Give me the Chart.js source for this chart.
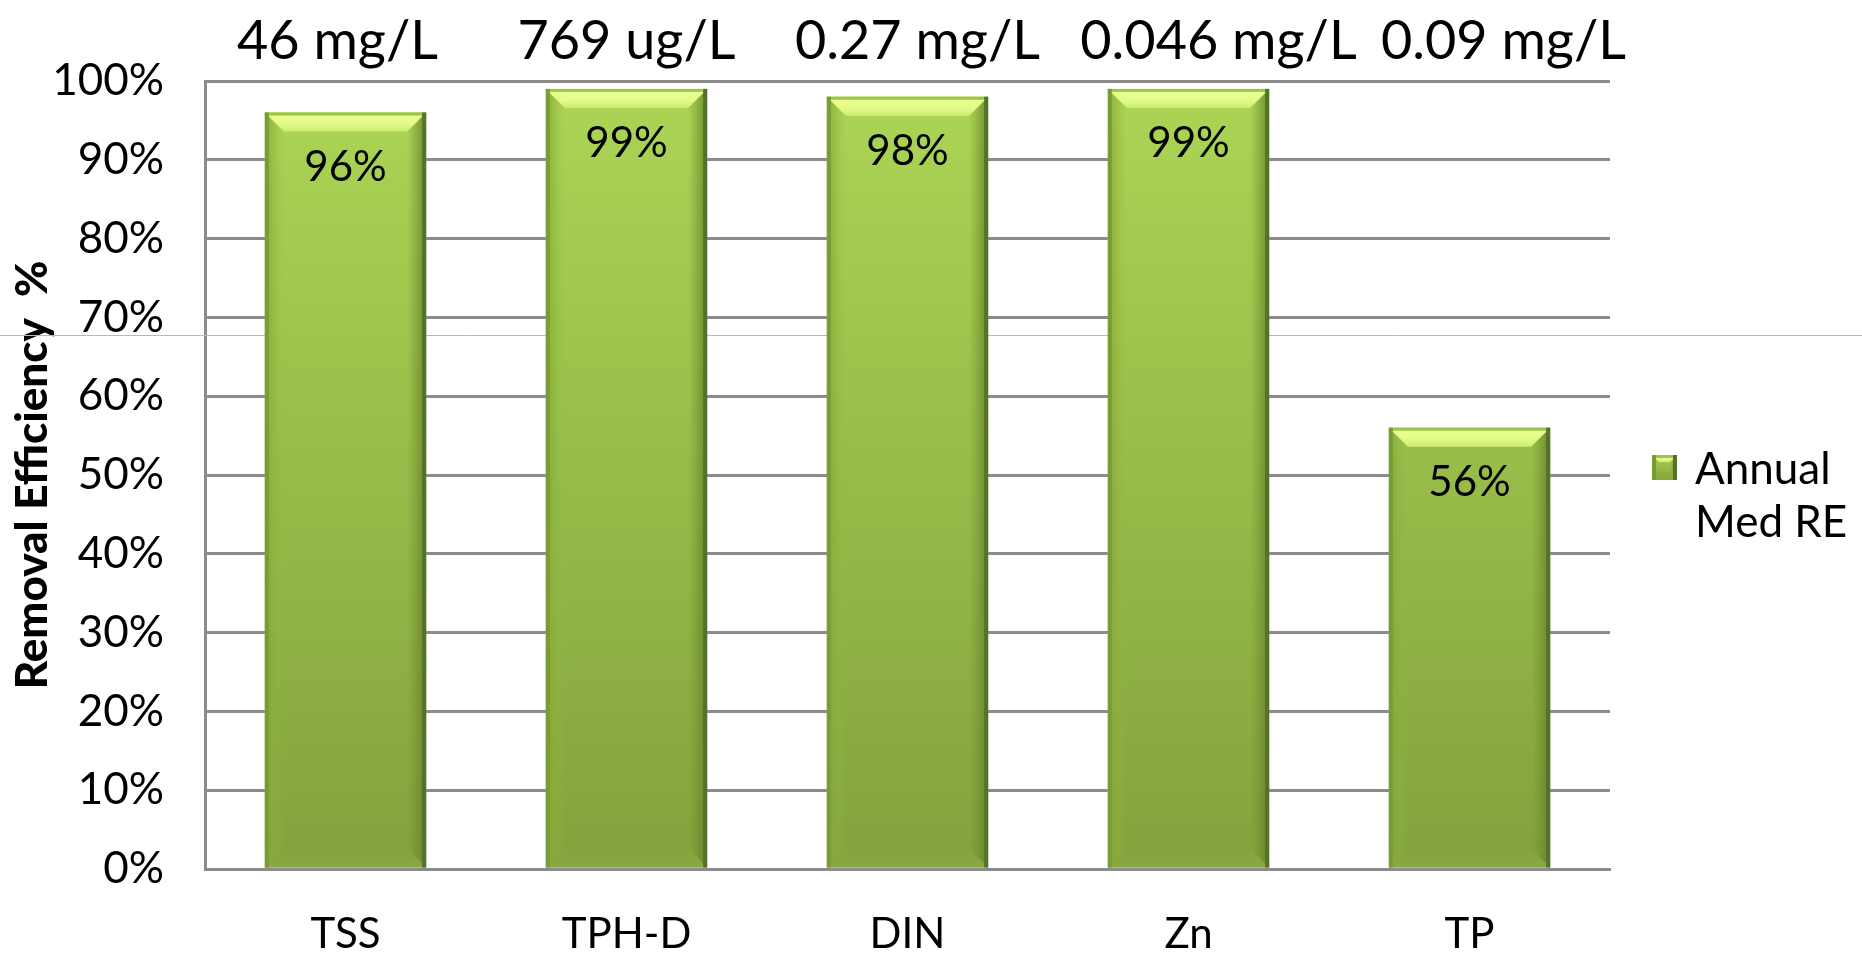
<!DOCTYPE html>
<html>
<head>
<meta charset="utf-8">
<title>Removal Efficiency</title>
<script src="https://cdn.jsdelivr.net/npm/chart.js@4.4.1/dist/chart.umd.min.js"></script>
<style>
  html, body { margin: 0; padding: 0; background: #ffffff; overflow: hidden; }
  canvas { display: block; }
</style>
</head>
<body>
<canvas id="chart" width="1862" height="955"></canvas>
<script>
// ---- data ----
const categories = ['TSS', 'TPH-D', 'DIN', 'Zn', 'TP'];
const medianRemoval = [96, 99, 98, 99, 56];
const influentConc = ['46 mg/L', '769 ug/L', '0.27 mg/L', '0.046 mg/L', '0.09 mg/L'];
const yTicks = [0, 10, 20, 30, 40, 50, 60, 70, 80, 90, 100];
const seriesLabel = ['Annual', 'Med RE'];
const axisTitle = 'Removal Efficiency  %';

// ---- styling ----
const FONT = 'Lato, "Open Sans", sans-serif';
const GRID = '#8c8c8c';
const concShift = [-8, 0, 10, 30, 34];   // nudges for the concentration captions

function fillPoly(ctx, pts, style) {
  ctx.beginPath();
  ctx.moveTo(pts[0][0], pts[0][1]);
  for (let k = 1; k < pts.length; k++) ctx.lineTo(pts[k][0], pts[k][1]);
  ctx.closePath();
  ctx.fillStyle = style;
  ctx.fill();
}

// bevelled green box used for the bars and the legend swatch
function bevelBox(ctx, L, T, R, B, b, withBody) {
  const h = B - T;
  b = Math.min(b, h / 2, (R - L) / 2);
  if (withBody) {
    const g = ctx.createLinearGradient(0, T, 0, B);
    g.addColorStop(0, '#acd555');
    g.addColorStop(1, '#84a23d');
    ctx.fillStyle = g;
    ctx.fillRect(L, T, R - L, h);
  }
  // left face
  const gl = ctx.createLinearGradient(L, 0, L + b, 0);
  gl.addColorStop(0, 'rgba(128,164,52,0.85)');
  gl.addColorStop(1, 'rgba(150,190,70,0)');
  fillPoly(ctx, [[L, T], [L + b, T + b], [L + b, B - b], [L, B]], gl);
  // right face
  const gr = ctx.createLinearGradient(R - b, 0, R, 0);
  gr.addColorStop(0, 'rgba(110,140,45,0)');
  gr.addColorStop(1, 'rgba(95,125,40,0.85)');
  fillPoly(ctx, [[R, T], [R - b, T + b], [R - b, B - b], [R, B]], gr);
  // top face
  const gt = ctx.createLinearGradient(0, T, 0, T + b);
  gt.addColorStop(0, '#c6e86a');
  gt.addColorStop(0.2, '#e9ff90');
  gt.addColorStop(0.6, '#e2fb88');
  gt.addColorStop(1, '#cdeb74');
  fillPoly(ctx, [[L, T], [R, T], [R - b, T + b], [L + b, T + b]], gt);
  // bottom face
  const gb = ctx.createLinearGradient(0, B - b, 0, B);
  gb.addColorStop(0, 'rgba(140,172,70,0)');
  gb.addColorStop(1, 'rgba(140,172,70,0.7)');
  fillPoly(ctx, [[L, B], [R, B], [R - b, B - b], [L + b, B - b]], gb);
  // outer edges
  ctx.fillStyle = '#9cc64a';
  ctx.fillRect(L, T, R - L, 3);
  ctx.fillStyle = '#7a9c36';
  ctx.fillRect(L, T, 4, h);
  ctx.fillStyle = '#55722a';
  ctx.fillRect(R - 4, T, 4, h);
}

const bevelBars = {
  id: 'bevelBars',
  beforeDatasetsDraw(chart) {
    // thin blue guide line across the slide
    const ctx = chart.ctx;
    ctx.save();
    ctx.strokeStyle = '#a9bad2';
    ctx.lineWidth = 1;
    ctx.beginPath();
    ctx.moveTo(0, 335.5);
    ctx.lineTo(chart.width, 335.5);
    ctx.stroke();
    ctx.restore();
  },
  afterDatasetsDraw(chart) {
    const ctx = chart.ctx;
    const meta = chart.getDatasetMeta(0);
    ctx.save();
    meta.data.forEach((bar, i) => {
      const p = bar.getProps(['x', 'y', 'base', 'width'], true);
      const L = p.x - p.width / 2, R = p.x + p.width / 2;
      bevelBox(ctx, L, p.y, R, p.base, 19, false);
      // value label inside the bar
      ctx.fillStyle = '#000';
      ctx.font = '42px ' + FONT;
      ctx.textAlign = 'center';
      ctx.textBaseline = 'middle';
      ctx.fillText(medianRemoval[i] + '%', p.x, p.y + 55);
    });
    ctx.restore();
  },
  afterDraw(chart) {
    const ctx = chart.ctx;
    const area = chart.chartArea;
    const xs = chart.scales.x;
    ctx.save();
    // concentration captions above the plot
    ctx.fillStyle = '#000';
    ctx.font = '54px ' + FONT;
    ctx.textAlign = 'center';
    ctx.textBaseline = 'middle';
    influentConc.forEach((t, i) => {
      ctx.fillText(t, xs.getPixelForValue(i) + concShift[i], area.top - 39);
    });
    // legend
    const lx = area.right + 42, ly = 455;
    bevelBox(ctx, lx, ly, lx + 25, ly + 25, 7, true);
    ctx.fillStyle = '#000';
    ctx.font = '44px ' + FONT;
    ctx.textAlign = 'left';
    ctx.textBaseline = 'middle';
    seriesLabel.forEach((t, k) => {
      ctx.fillText(t, lx + 43, ly + 15 + k * 53);
    });
    ctx.restore();
  }
};

const ctx = document.getElementById('chart').getContext('2d');

new Chart(ctx, {
  type: 'bar',
  data: {
    labels: categories,
    datasets: [{
      label: seriesLabel.join(' '),
      data: medianRemoval,
      backgroundColor(c) {
        const a = c.chart.chartArea;
        if (!a) return '#9cc04a';
        const g = c.chart.ctx.createLinearGradient(0, a.top, 0, a.bottom);
        g.addColorStop(0, '#acd555');
        g.addColorStop(1, '#84a23d');
        return g;
      },
      borderWidth: 0,
      barPercentage: 0.574,
      categoryPercentage: 1.0
    }]
  },
  options: {
    responsive: false,
    devicePixelRatio: 1,
    animation: false,
    layout: { padding: { left: 0, top: 81, right: 252, bottom: 0 } },
    plugins: {
      legend: { display: false },
      tooltip: { enabled: false },
      title: { display: false }
    },
    scales: {
      x: {
        grid: { display: false, drawTicks: false },
        border: { display: true, color: GRID, width: 3 },
        ticks: { color: '#000', font: { family: FONT, size: 42 }, padding: 40 },
        afterFit(s) { s.height = 86; }
      },
      y: {
        min: 0,
        max: 100,
        afterBuildTicks(s) { s.ticks = yTicks.map(v => ({ value: v })); },
        grid: { color: GRID, lineWidth: 3, drawTicks: false },
        border: { display: true, color: GRID, width: 3 },
        ticks: {
          color: '#000',
          font: { family: FONT, size: 44 },
          padding: 41,
          callback: v => v + '%'
        },
        title: {
          display: true,
          text: axisTitle,
          color: '#000',
          font: { family: FONT, size: 44, weight: '900' },
          padding: { top: 6, bottom: 0 }
        },
        afterFit(s) { s.width = 205; }
      }
    }
  },
  plugins: [bevelBars]
});
</script>
</body>
</html>
